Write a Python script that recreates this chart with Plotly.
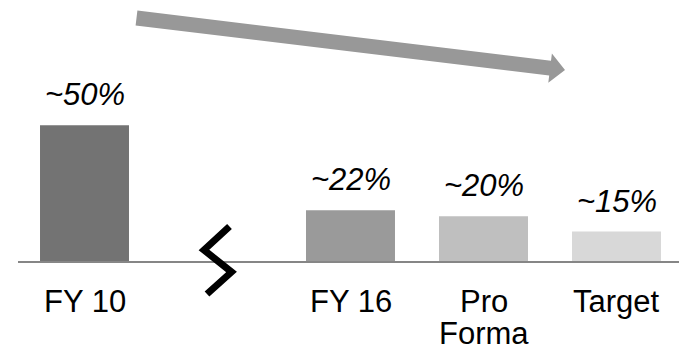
import plotly.graph_objects as go

# Share of total by period (the middle slot is the axis break)
categories = ["FY 10", "", "FY 16", "Pro Forma", "Target"]
values = [50, None, 22, 20, 15]
value_labels = ["~50%", "", "~22%", "~20%", "~15%"]
label_lines = [["FY 10"], [], ["FY 16"], ["Pro", "Forma"], ["Target"]]

bar_colors = ["#737373", "#ffffff", "#9a9a9a", "#bfbfbf", "#d8d8d8"]

W, H = 679, 350
ML, MB = 18, 89
PLOT_W, PLOT_H = W - ML, H - MB
FONT = "Liberation Sans, Arial, sans-serif"
FS = 31

xs = list(range(len(categories)))

fig = go.Figure()
fig.add_trace(go.Bar(
    x=xs,
    y=values,
    width=0.669,
    marker=dict(color=bar_colors, line=dict(width=0)),
    hoverinfo="skip",
))

Y0 = 5.3
Y1 = Y0 + PLOT_H / 3.036
X0 = -0.5
X1 = X0 + PLOT_W / 133.0


def px(x, y):
    """Convert page pixels to paper coordinates."""
    return (x - ML) / PLOT_W, (PLOT_H - y) / PLOT_H


annotations = []
for i, (v, lab) in enumerate(zip(values, value_labels)):
    if v is None:
        continue
    annotations.append(dict(
        x=i, y=v, xref="x", yref="y", text="<i>%s</i>" % lab, showarrow=False,
        xanchor="center", yanchor="bottom", yshift=11,
        font=dict(family=FONT, size=FS, color="#000000"),
    ))

for i, lines in enumerate(label_lines):
    for j, line in enumerate(lines):
        annotations.append(dict(
            x=i, y=0, xref="x", yref="paper", text=line, showarrow=False,
            xanchor="center", yanchor="top", yshift=-21 - 32 * j,
            font=dict(family=FONT, size=FS, color="#000000"),
        ))

# Downward trend arrow
arrow_pts = [(137.4, 10.6), (551.0, 60.8), (551.9, 53.6), (565.0, 70.0),
             (548.3, 82.8), (549.2, 75.6), (135.6, 25.4)]
arrow_path = "M " + " L ".join("%.5f,%.5f" % px(x, y) for x, y in arrow_pts) + " Z"

# Axis break zigzag
break_pts = [(229.5, 226.5), (204.0, 250.0), (231.5, 272.0), (207.0, 294.0)]
break_path = "M " + " L ".join("%.5f,%.5f" % px(x, y) for x, y in break_pts)

shapes = [
    dict(type="path", xref="paper", yref="paper", path=arrow_path,
         fillcolor="#989898", line=dict(width=0), layer="above"),
    dict(type="path", xref="paper", yref="paper", path=break_path,
         line=dict(color="#000000", width=7), layer="above"),
]

fig.update_layout(
    width=W, height=H,
    margin=dict(l=ML, r=0, t=0, b=MB, pad=0),
    paper_bgcolor="#ffffff", plot_bgcolor="#ffffff",
    showlegend=False,
    xaxis=dict(range=[X0, X1], showticklabels=False, ticks="", showgrid=False,
               zeroline=False, showline=True, linecolor="#868686", linewidth=2,
               fixedrange=True),
    yaxis=dict(range=[Y0, Y1], visible=False, fixedrange=True),
    annotations=annotations,
    shapes=shapes,
)

fig.write_html("out.html", config={"displayModeBar": False})
